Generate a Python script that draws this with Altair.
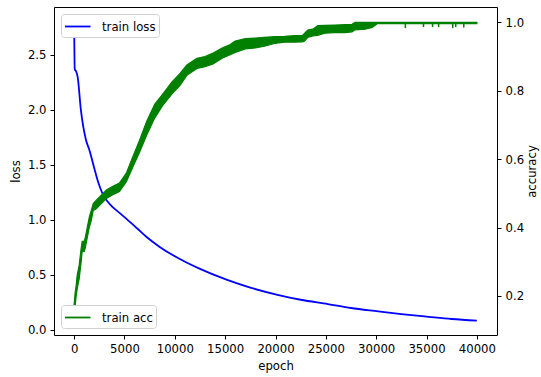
import altair as alt
import pandas as pd

# ---- data ----
loss_epoch = [0, 60, 200, 350, 670, 1170, 1500, 2000, 2400, 2800, 3300, 3800, 4500, 5200,
              6300, 7200, 8500, 10500, 12500, 15200, 17500, 20200, 22500, 25200, 27500,
              30200, 32500, 35200, 37500, 40000]
loss_value = [2.80, 2.37, 2.35, 2.30, 2.00, 1.73, 1.64, 1.47, 1.34, 1.245, 1.17, 1.12, 1.065,
              1.01, 0.92, 0.845, 0.755, 0.645, 0.555, 0.455, 0.385, 0.32, 0.275, 0.236, 0.20,
              0.17, 0.145, 0.12, 0.10, 0.085]

acc_epoch = [0, 100, 200, 300, 500, 700, 800, 1000, 1100, 1300, 1500, 1700, 1900, 2200,
             2700, 3200, 3800, 4500, 5200, 5800, 6500, 7200, 8000, 8800, 9700, 10500, 11200,
             12200, 13000, 13800, 14700, 15500, 16000, 17000, 18000, 18900, 19900, 20900,
             21900, 22700, 22900, 23200, 23700, 24200, 24900, 25900, 26900, 27600, 27900,
             28900, 29600, 30100, 40000]
acc_low = [0.13, 0.17, 0.20, 0.22, 0.25, 0.30, 0.33, 0.33, 0.34, 0.37, 0.40, 0.42, 0.45,
           0.455, 0.47, 0.485, 0.495, 0.505, 0.535, 0.575, 0.62, 0.67, 0.72, 0.757, 0.79,
           0.815, 0.845, 0.865, 0.87, 0.878, 0.895, 0.905, 0.912, 0.922, 0.925, 0.93, 0.938,
           0.942, 0.942, 0.943, 0.945, 0.956, 0.96, 0.962, 0.968, 0.97, 0.97, 0.972, 0.978,
           0.98, 0.985, 0.996, 0.996]
acc_high = [0.175, 0.21, 0.23, 0.26, 0.29, 0.34, 0.36, 0.36, 0.37, 0.40, 0.43, 0.45, 0.47,
            0.48, 0.495, 0.51, 0.52, 0.53, 0.56, 0.605, 0.655, 0.71, 0.76, 0.79, 0.825, 0.85,
            0.875, 0.895, 0.90, 0.91, 0.925, 0.935, 0.945, 0.952, 0.954, 0.956, 0.958, 0.959,
            0.961, 0.962, 0.968, 0.977, 0.98, 0.99, 0.991, 0.992, 0.993, 0.994, 1.0, 1.0, 1.0,
            1.0, 1.0]

spike_epoch = [32900, 34700, 35600, 36200, 37600, 37900, 38700]
spike_low = [0.983, 0.986, 0.986, 0.986, 0.983, 0.986, 0.985]

x_ticks = [0, 5000, 10000, 15000, 20000, 25000, 30000, 35000, 40000]
loss_ticks = [0.0, 0.5, 1.0, 1.5, 2.0, 2.5]
acc_ticks = [0.2, 0.4, 0.6, 0.8, 1.0]

loss_df = pd.DataFrame({"epoch": loss_epoch, "loss": loss_value, "series": "train loss"})
acc_df = pd.DataFrame({"epoch": acc_epoch, "lo": acc_low, "hi": acc_high})
spike_df = pd.DataFrame({"epoch": spike_epoch, "lo": spike_low,
                         "hi": [1.0] * len(spike_epoch), "series": "train acc"})

FONT = "DejaVu Sans"
x_scale = alt.Scale(domain=[-2000, 42000], nice=False, zero=False)
x_enc = alt.X("epoch:Q", scale=x_scale,
              axis=alt.Axis(values=x_ticks, format="d", title="epoch"))
loss_scale = alt.Scale(domain=[-0.0455, 2.936], nice=False, zero=False)
acc_scale = alt.Scale(domain=[0.0859, 1.0447], nice=False, zero=False)

legend_common = dict(title=None, symbolType="M-1,0H2", symbolSize=289, symbolStrokeWidth=1.8,
                     fillColor="white", strokeColor="#d0d0d0", cornerRadius=3, padding=3,
                     labelFontSize=11.7, labelFont=FONT, labelColor="black", labelOffset=19,
                     offset=7)

loss_line = alt.Chart(loss_df).mark_line(strokeWidth=1.8, interpolate="monotone").encode(
    x=x_enc,
    y=alt.Y("loss:Q", scale=loss_scale,
            axis=alt.Axis(values=loss_ticks, format=".1f", title="loss", orient="left")),
    color=alt.Color("series:N", scale=alt.Scale(domain=["train loss"], range=["#0000ff"]),
                    legend=alt.Legend(orient="top-left", **legend_common)),
)

acc_band = alt.Chart(acc_df).mark_area(color="#008000", stroke="#008000",
                                       strokeWidth=1.2, opacity=1).encode(
    x=x_enc,
    y=alt.Y("lo:Q", scale=acc_scale,
            axis=alt.Axis(values=acc_ticks, format=".1f", title="accuracy", orient="right",
                          titleAngle=270)),
    y2="hi:Q",
)

acc_spikes = alt.Chart(spike_df).mark_rule(strokeWidth=1.5).encode(
    x=x_enc,
    y=alt.Y("lo:Q", scale=acc_scale, axis=None),
    y2="hi:Q",
    color=alt.Color("series:N", scale=alt.Scale(domain=["train acc"], range=["#008000"]),
                    legend=alt.Legend(orient="bottom-left", **legend_common)),
)

chart = alt.layer(loss_line, acc_band, acc_spikes).resolve_scale(
    y="independent", color="independent"
).resolve_legend(color="independent").properties(
    width=443, height=328,
    autosize=alt.AutoSizeParams(type="none"),
    padding={"left": 54, "top": 7, "right": 44, "bottom": 42},
).configure_view(
    stroke="black", strokeWidth=1
).configure_axis(
    grid=False, domain=False, tickColor="black", tickSize=4, tickWidth=1,
    labelFont=FONT, labelFontSize=11.7, labelColor="black", labelPadding=4,
    titleFont=FONT, titleFontSize=11.7, titleFontWeight="normal", titleColor="black",
).configure_axisLeft(titlePadding=6).configure_axisRight(titlePadding=14).configure_axisBottom(
    titlePadding=6
)

chart.save("out.html", embed_options={"renderer": "svg", "actions": False})
